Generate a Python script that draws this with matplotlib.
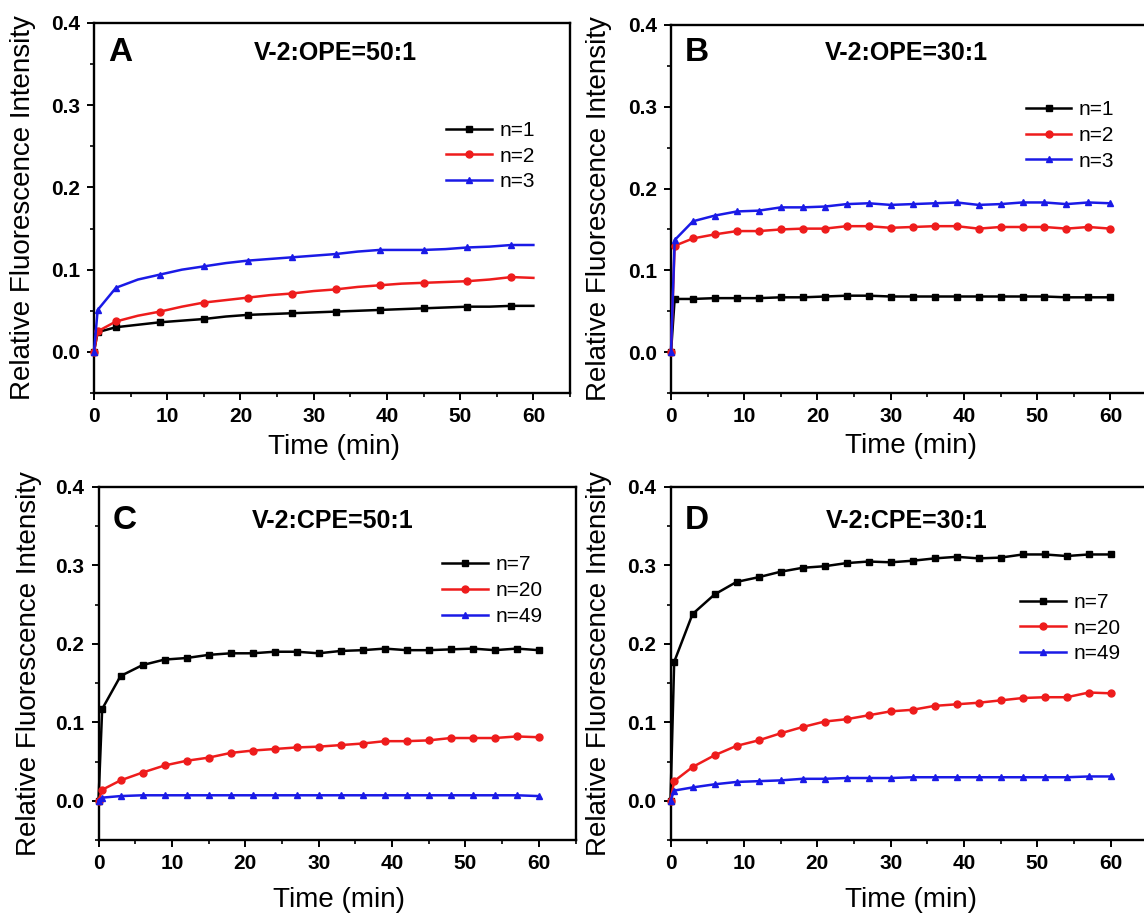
import matplotlib
matplotlib.use("Agg")
import matplotlib.pyplot as plt
from matplotlib.ticker import MultipleLocator

plt.rcParams["font.family"] = ["Liberation Sans", "DejaVu Sans"]

# time axis (min): 0, 0.5, then every 3 min up to 60
TIME = [0, 0.5, 3, 6, 9, 12, 15, 18, 21, 24, 27, 30, 33, 36, 39, 42, 45, 48, 51, 54, 57, 60]

# panel A: V-2:OPE=50:1
A_N1 = [0.0, 0.024, 0.030, 0.033, 0.036, 0.038, 0.040, 0.043, 0.045, 0.046, 0.047, 0.048,
        0.049, 0.050, 0.051, 0.052, 0.053, 0.054, 0.055, 0.055, 0.056, 0.056]
A_N2 = [0.0, 0.025, 0.037, 0.044, 0.049, 0.055, 0.060, 0.063, 0.066, 0.069, 0.071, 0.074,
        0.076, 0.079, 0.081, 0.083, 0.084, 0.085, 0.086, 0.088, 0.091, 0.090]
A_N3 = [0.0, 0.051, 0.078, 0.088, 0.094, 0.100, 0.104, 0.108, 0.111, 0.113, 0.115, 0.117,
        0.119, 0.122, 0.124, 0.124, 0.124, 0.125, 0.127, 0.128, 0.130, 0.130]

# panel B: V-2:OPE=30:1
B_N1 = [0.0, 0.065, 0.065, 0.066, 0.066, 0.066, 0.067, 0.067, 0.068, 0.069, 0.069, 0.068,
        0.068, 0.068, 0.068, 0.068, 0.068, 0.068, 0.068, 0.067, 0.067, 0.067]
B_N2 = [0.0, 0.130, 0.139, 0.144, 0.148, 0.148, 0.150, 0.151, 0.151, 0.154, 0.154, 0.152,
        0.153, 0.154, 0.154, 0.151, 0.153, 0.153, 0.153, 0.151, 0.153, 0.151]
B_N3 = [0.0, 0.137, 0.160, 0.167, 0.172, 0.173, 0.177, 0.177, 0.178, 0.181, 0.182, 0.180,
        0.181, 0.182, 0.183, 0.180, 0.181, 0.183, 0.183, 0.181, 0.183, 0.182]

# panel C: V-2:CPE=50:1
C_N7 = [0.0, 0.117, 0.159, 0.173, 0.180, 0.182, 0.186, 0.188, 0.188, 0.190, 0.190, 0.188,
        0.191, 0.192, 0.194, 0.192, 0.192, 0.193, 0.194, 0.192, 0.194, 0.192]
C_N20 = [0.0, 0.014, 0.026, 0.036, 0.045, 0.051, 0.055, 0.061, 0.064, 0.066, 0.068, 0.069,
         0.071, 0.073, 0.076, 0.076, 0.077, 0.080, 0.080, 0.080, 0.082, 0.081]
C_N49 = [0.0, 0.004, 0.006, 0.007, 0.007, 0.007, 0.007, 0.007, 0.007, 0.007, 0.007, 0.007,
         0.007, 0.007, 0.007, 0.007, 0.007, 0.007, 0.007, 0.007, 0.007, 0.006]

# panel D: V-2:CPE=30:1
D_N7 = [0.0, 0.177, 0.238, 0.263, 0.279, 0.285, 0.292, 0.297, 0.299, 0.303, 0.305, 0.304,
        0.306, 0.309, 0.311, 0.309, 0.310, 0.314, 0.314, 0.312, 0.314, 0.314]
D_N20 = [0.0, 0.025, 0.043, 0.058, 0.070, 0.077, 0.086, 0.094, 0.101, 0.104, 0.109, 0.114,
         0.116, 0.121, 0.123, 0.125, 0.128, 0.131, 0.132, 0.132, 0.138, 0.137]
D_N49 = [0.0, 0.013, 0.017, 0.021, 0.024, 0.025, 0.026, 0.028, 0.028, 0.029, 0.029, 0.029,
         0.030, 0.030, 0.030, 0.030, 0.030, 0.030, 0.030, 0.030, 0.031, 0.031]

LABELS_OPE = ["n=1", "n=2", "n=3"]
LABELS_CPE = ["n=7", "n=20", "n=49"]
COLORS = ["#000000", "#ee1c1c", "#1a1ae6"]
MARKERS = ["s", "o", "^"]

# marker subset used in panel A (every other 3-min point)
A_MARKS = [0, 1] + list(range(2, 21, 2))

PANELS = [
    # letter, title, series, labels, axes rect, legend anchor, title pos, xlabel y, ylabel x, marks
    ("A", "V-2:OPE=50:1", [A_N1, A_N2, A_N3], LABELS_OPE,
     [94 / 1144, 1 - 393 / 916, 476 / 1144, 370 / 916], (0.74, 0.735), (0.507, 0.92), -0.112, -0.122, A_MARKS),
    ("B", "V-2:OPE=30:1", [B_N1, B_N2, B_N3], LABELS_OPE,
     [671 / 1144, 1 - 393 / 916, 476 / 1144, 368 / 916], (0.745, 0.795), (0.494, 0.924), -0.108, -0.124, None),
    ("C", "V-2:CPE=50:1", [C_N7, C_N20, C_N49], LABELS_CPE,
     [98.5 / 1144, 1 - 840 / 916, 477 / 1144, 353 / 916], (0.72, 0.806), (0.49, 0.904), -0.134, -0.118, None),
    ("D", "V-2:CPE=30:1", [D_N7, D_N20, D_N49], LABELS_CPE,
     [670.5 / 1144, 1 - 840 / 916, 477 / 1144, 353 / 916], (0.733, 0.70), (0.495, 0.904), -0.134, -0.123, None),
]

fig = plt.figure(figsize=(11.44, 9.16), dpi=100)

for letter, title, series, labels, rect, leg_xy, title_xy, xl_y, yl_x, marks in PANELS:
    ax = fig.add_axes(rect)
    for ys, lab, col, mk in zip(series, labels, COLORS, MARKERS):
        ax.plot(TIME, ys, color=col, marker=mk, ms=5, lw=1.8, label=lab,
                markevery=marks, clip_on=False, zorder=3)
    ax.set_xlim(0, 65)
    ax.set_ylim(-0.05, 0.4)
    ax.xaxis.set_minor_locator(MultipleLocator(5))
    ax.yaxis.set_minor_locator(MultipleLocator(0.05))
    ax.set_xticks([0, 10, 20, 30, 40, 50, 60])
    ax.set_yticks([0.0, 0.1, 0.2, 0.3, 0.4])
    ax.set_yticklabels(["0.0", "0.1", "0.2", "0.3", "0.4"])
    ax.tick_params(which="major", direction="out", length=5, width=1.4,
                   labelsize=15, pad=5, top=False, right=False)
    ax.tick_params(which="minor", direction="out", length=3, width=1.2, top=False, right=False)
    for lbl in ax.get_xticklabels() + ax.get_yticklabels():
        lbl.set_fontweight("bold")
    for sp in ax.spines.values():
        sp.set_linewidth(1.7)

    ax.set_xlabel("Time (min)", fontsize=20)
    ax.set_ylabel("Relative Fluorescence Intensity", fontsize=20)
    ax.xaxis.set_label_coords(0.504, xl_y)
    ax.yaxis.set_label_coords(yl_x, 0.5)

    ax.text(0.055, title_xy[1], letter, transform=ax.transAxes, fontsize=24,
            fontweight="bold", ha="center", va="center")
    ax.text(title_xy[0], title_xy[1], title, transform=ax.transAxes, fontsize=18,
            fontweight="bold", ha="center", va="center")

    ax.legend(loc="upper left", bbox_to_anchor=leg_xy, frameon=False, fontsize=15,
              handlelength=2.2, handletextpad=0.35, labelspacing=0.32, borderpad=0,
              borderaxespad=0, markerscale=1.0)

fig.savefig("out.png", dpi=100)
